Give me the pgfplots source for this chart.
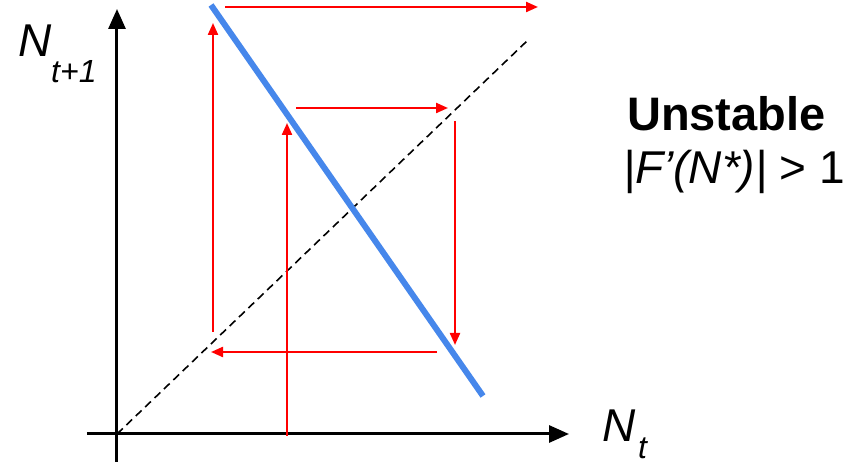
\documentclass[border=0pt]{standalone}
\usepackage{fontspec}
\setmainfont{Liberation Sans}
\usepackage{pgfplots}
\pgfplotsset{compat=1.18}
\usetikzlibrary{arrows.meta}
\definecolor{cobblue}{RGB}{70,135,235}
\definecolor{cobred}{RGB}{255,0,0}

\begin{document}
\begin{tikzpicture}
\begin{axis}[
  x=1pt, y=1pt,
  xmin=-30, xmax=452, ymin=-28, ymax=425,
  axis lines=middle,
  axis line style={line width=3pt, -{Triangle[length=20pt,width=17pt]}},
  xtick=\empty, ytick=\empty,
  enlargelimits=false,
  clip=false,
]
\path (axis cs:-117,-31) rectangle (axis cs:736,434);
% diagonal N_{t+1} = N_t
\addplot[black, line width=1.6pt, dash pattern=on 8pt off 5pt] coordinates {(0,0) (410,393)};
% map F
\addplot[cobblue, line width=6pt] coordinates {(94,429) (366,38)};
% cobweb
\addplot[cobred, line width=2.2pt, -{Triangle[length=12pt,width=10pt]}] coordinates {(170,-2) (170,311)};
\addplot[cobred, line width=2.2pt, -{Triangle[length=12pt,width=10pt]}] coordinates {(179,326) (331,326)};
\addplot[cobred, line width=2.2pt, -{Triangle[length=12pt,width=10pt]}] coordinates {(338,313) (338,89)};
\addplot[cobred, line width=2.2pt, -{Triangle[length=12pt,width=10pt]}] coordinates {(320,82) (94,82)};
\addplot[cobred, line width=2.2pt, -{Triangle[length=12pt,width=10pt]}] coordinates {(96,102) (96,411)};
\addplot[cobred, line width=2.2pt, -{Triangle[length=12pt,width=10pt]}] coordinates {(108,427) (421,427)};
% labels
\node[anchor=base west, inner sep=0pt] at (axis cs:-99,377) {\fontsize{46}{46}\selectfont\itshape N};
\node[anchor=base west, inner sep=0pt] at (axis cs:-66,351) {\fontsize{32}{32}\selectfont\itshape t+1};
\node[anchor=base west, inner sep=0pt] at (axis cs:485,-8) {\fontsize{46}{46}\selectfont\itshape N};
\node[anchor=base west, inner sep=0pt] at (axis cs:521,-25) {\fontsize{32}{32}\selectfont\itshape t};
\node[anchor=base west, inner sep=0pt] at (axis cs:510,303) {\fontsize{47}{47}\selectfont\bfseries Unstable};
\node[anchor=base west, inner sep=0pt] at (axis cs:506,250) {\fontsize{46}{46}\selectfont\textit{|F’(N*)|} > 1};
\end{axis}
\end{tikzpicture}
\end{document}
